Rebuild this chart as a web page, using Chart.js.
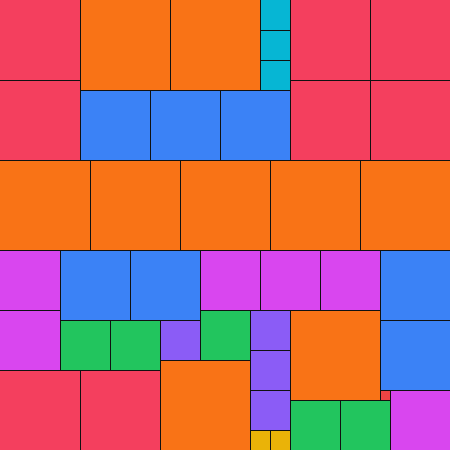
<!DOCTYPE html>
<html>
<head>
<meta charset="utf-8">
<script src="https://cdn.jsdelivr.net/npm/chart.js@4.4.1/dist/chart.umd.min.js"></script>
<style>
  html, body { margin: 0; padding: 0; background: #fff; }
  #wrap { width: 450px; height: 450px; }
</style>
</head>
<body>
<div id="wrap"><canvas id="myChart"></canvas></div>
<script>
// side of the big square, in units
const side = 45;

// square sizes and their colours (size n appears n times)
const sizes = [9, 8, 7, 6, 5, 4, 3, 2, 1];
const colors = ['#F97316', '#F43F5E', '#3B82F6', '#D946EF', '#22C55E', '#8B5CF6', '#06B6D4', '#EAB308', '#EF4444'];

// top-left corner of every square, [x, y]
const pos9 = [[8, 0], [17, 0], [0, 16], [9, 16], [18, 16], [27, 16], [36, 16], [16, 36], [29, 31]];
const pos8 = [[0, 0], [0, 8], [29, 0], [37, 0], [29, 8], [37, 8], [0, 37], [8, 37]];
const pos7 = [[8, 9], [15, 9], [22, 9], [6, 25], [13, 25], [38, 25], [38, 32]];
const pos6 = [[0, 25], [0, 31], [20, 25], [26, 25], [32, 25], [39, 39]];
const pos5 = [[6, 32], [11, 32], [20, 31], [29, 40], [34, 40]];
const pos4 = [[16, 32], [25, 31], [25, 35], [25, 39]];
const pos3 = [[26, 0], [26, 3], [26, 6]];
const pos2 = [[25, 43], [27, 43]];
const pos1 = [[38, 39]];

const allPos = [pos9, pos8, pos7, pos6, pos5, pos4, pos3, pos2, pos1];

const datasets = allPos.map((list, i) => ({
    label: 'size ' + sizes[i],
    data: list.map(p => ({ x: p[0], y: p[1] })),
    backgroundColor: colors[i],
    pointRadius: 0,
    pointHoverRadius: 0
}));

// draws each square from its data point through the x / y scales
const squaresPlugin = {
    id: 'squares',
    afterDatasetsDraw(chart) {
        const ctx = chart.ctx;
        const xs = chart.scales.x, ys = chart.scales.y;
        const rects = [];
        chart.data.datasets.forEach((ds, i) => {
            const s = sizes[i];
            ds.data.forEach(p => {
                const x0 = Math.round(xs.getPixelForValue(p.x));
                const x1 = Math.round(xs.getPixelForValue(p.x + s));
                const y0 = Math.round(ys.getPixelForValue(p.y));
                const y1 = Math.round(ys.getPixelForValue(p.y + s));
                rects.push({ x0, x1, y0, y1, left: p.x > 0, top: p.y > 0, color: ds.backgroundColor });
            });
        });
        ctx.save();
        rects.forEach(r => {
            ctx.fillStyle = r.color;
            ctx.fillRect(r.x0, r.y0, r.x1 - r.x0, r.y1 - r.y0);
        });
        ctx.strokeStyle = '#111';
        ctx.lineWidth = 1;
        ctx.beginPath();
        rects.forEach(r => {
            if (r.left) {
                ctx.moveTo(r.x0 + 0.5, r.y0);
                ctx.lineTo(r.x0 + 0.5, r.y1);
            }
            if (r.top) {
                ctx.moveTo(r.x0, r.y0 + 0.5);
                ctx.lineTo(r.x1, r.y0 + 0.5);
            }
        });
        ctx.stroke();
        ctx.restore();
    }
};

new Chart(document.getElementById('myChart'), {
    type: 'scatter',
    data: { datasets: datasets },
    options: {
        responsive: true,
        maintainAspectRatio: false,
        animation: false,
        layout: { padding: 0 },
        scales: {
            x: { type: 'linear', min: 0, max: side, display: false },
            y: { type: 'linear', min: 0, max: side, reverse: true, display: false }
        },
        plugins: {
            legend: { display: false },
            tooltip: { enabled: false }
        }
    },
    plugins: [squaresPlugin]
});
</script>
</body>
</html>
